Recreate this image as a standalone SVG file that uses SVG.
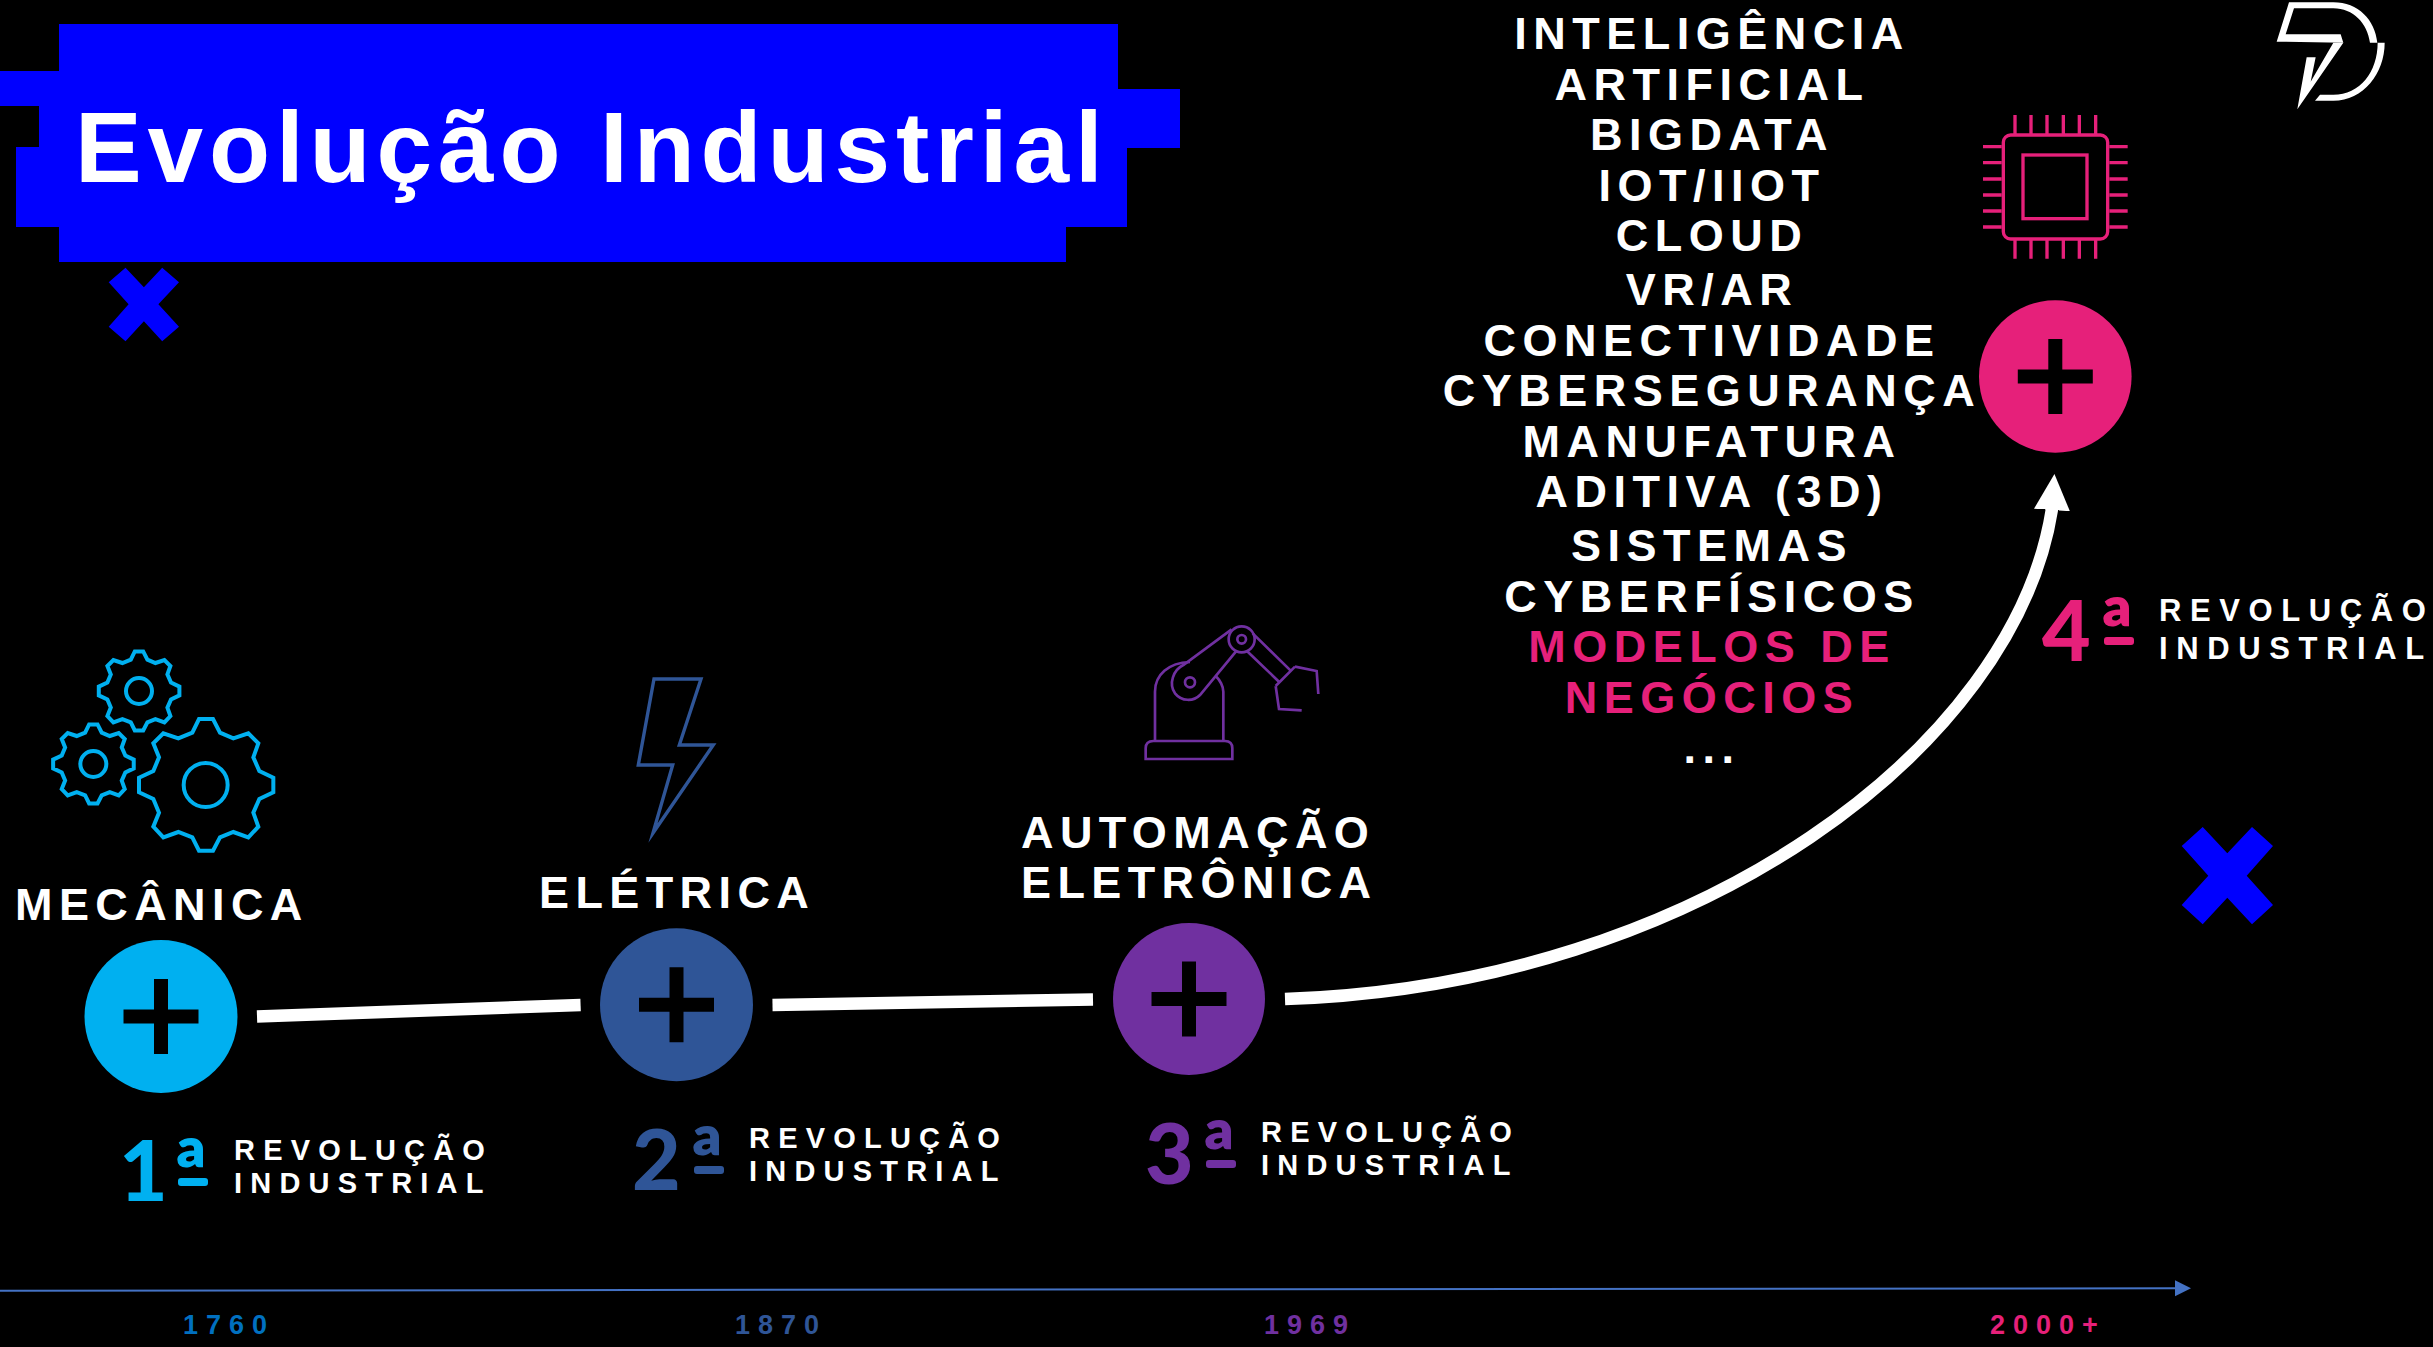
<svg xmlns="http://www.w3.org/2000/svg" xmlns:xlink="http://www.w3.org/1999/xlink" width="2433" height="1347" viewBox="0 0 2433 1347">
<style>
text{font-family:"Liberation Sans",Arial,sans-serif;font-weight:700;fill:#fff}
.h{font-size:45px;letter-spacing:6.4px}
.l{font-size:45px;letter-spacing:6.5px;text-anchor:middle}
.r{font-size:29px;letter-spacing:8.2px}
.r4{font-size:31px;letter-spacing:8.6px}
.y{font-size:27px;letter-spacing:8px}
.n{font-family:Lato,"Liberation Sans",sans-serif;font-weight:900;font-size:84px}
.o{font-size:92px}
.k{fill:#000}
.x{fill:#0000ff}
.ico{fill:none;stroke-linejoin:miter}
.pk{fill:#e6207a}
.wl{fill:none;stroke:#fff;stroke-width:12.5}
</style>
<defs>
<marker id="wa" markerUnits="userSpaceOnUse" markerWidth="40" markerHeight="40" refX="1" refY="18" orient="-86"><path d="M0,0L36,18L0,36Z" fill="#fff"/></marker>
<marker id="ba" markerUnits="userSpaceOnUse" markerWidth="20" markerHeight="20" refX="1" refY="8" orient="auto"><path d="M0,0L16,8L0,16Z" fill="#4472c4"/></marker>
<path id="plus" d="M-7,-37.5H7V-7H37.5V7H7V37.5H-7V7H-37.5V-7H-7Z" class="k"/>
<polygon id="gear" points="-21,-198 21,-198 42,-157 82,-140 127,-155 157,-125 142,-83 160,-42 202,-22 202,22 160,42 142,83 157,125 127,157 82,141 42,157 21,197 -21,197 -41,157 -83,141 -128,157 -158,125 -141,83 -158,42 -201,22 -201,-22 -158,-42 -141,-83 -158,-125 -128,-155 -83,-140 -41,-157"/>
</defs>
<rect width="2433" height="1347" fill="#000"/>
<g id="title">
<polygon class="x" points="59,24 1118,24 1118,89 1180,89 1180,148 1127,148 1127,227 1066,227 1066,262 59,262 59,227 16,227 16,147 39,147 39,106 0,106 0,71 59,71"/>
<text x="75" y="182" style="font-size:100px;letter-spacing:5.85px">Evolução Industrial</text>
</g>
<polygon id="x-small" class="x" points="125.5,267.7 143.9,287.3 162.2,267.7 179,282.3 158.4,304.3 179,326.7 162.2,341.3 143.9,321.3 125.5,341.3 108.7,326.7 128.6,304.3 108.7,282.3"/>
<polygon id="x-large" class="x" points="2202.7,827 2227.3,853.3 2252,827 2273,846 2246.7,875.7 2273,905 2252,924.3 2227.3,897.7 2202.7,924.3 2181.7,905 2208.3,875.7 2181.7,846"/>
<g id="connectors">
<path class="wl" d="M257,1016.5L580.6,1005"/>
<path class="wl" d="M772.5,1005L1093,999.5"/>
<path class="wl" d="M1285,999C1700,985 2015,745 2052,509" marker-end="url(#wa)"/>
<path d="M0,1290.7L2176,1288.3" fill="none" stroke="#4472c4" stroke-width="2" marker-end="url(#ba)"/>
</g>
<g id="node-1">
<g class="ico" stroke="#00b0f0" transform="translate(30,640) scale(.33333)">
<use xlink:href="#gear" href="#gear" transform="translate(528,435)" stroke-width="12"/>
<use xlink:href="#gear" href="#gear" transform="translate(327,153) scale(.6)" stroke-width="20"/>
<use xlink:href="#gear" href="#gear" transform="translate(190,372) scale(.6)" stroke-width="20"/>
<circle cx="527" cy="435" r="66" stroke-width="12"/>
<circle cx="327" cy="153" r="39" stroke-width="12"/>
<circle cx="190" cy="372" r="39" stroke-width="12"/>
</g>
<text class="h" x="15" y="920">MECÂNICA</text>
<circle cx="161" cy="1016.5" r="76.5" fill="#00b0f0"/>
<use xlink:href="#plus" href="#plus" x="161" y="1016.5"/>
<text class="n" x="119" y="1201" style="fill:#00b0f0">1<tspan class="o" x="174" y="1206">ª</tspan></text>
<rect x="178" y="1178" width="30" height="8" rx="3" fill="#00b0f0"/>
<text class="r" x="234" y="1160">REVOLUÇÃO</text>
<text class="r" x="234" y="1193">INDUSTRIAL</text>
<text class="y" x="183" y="1334" style="fill:#0070c0">1760</text>
</g>
<g id="node-2">
<polygon class="ico" stroke="#2f5597" stroke-width="3.4" stroke-miterlimit="20" points="654,679 701,679 679.3,745 713.3,745 653,833 672.7,765 638.3,765"/>
<text class="h" x="539" y="908">ELÉTRICA</text>
<circle cx="676.5" cy="1004.8" r="76.5" fill="#2f5597"/>
<use xlink:href="#plus" href="#plus" x="676.5" y="1004.8"/>
<text class="n" x="632" y="1190" style="fill:#2f5597">2<tspan class="o" x="690" y="1194">ª</tspan></text>
<rect x="694" y="1166" width="30" height="8" rx="3" fill="#2f5597"/>
<text class="r" x="749" y="1148">REVOLUÇÃO</text>
<text class="r" x="749" y="1181">INDUSTRIAL</text>
<text class="y" x="735" y="1334" style="fill:#2f5597">1870</text>
</g>
<g id="node-3">
<g class="ico" stroke="#7030a0" stroke-width="8" transform="translate(1100,600) scale(.33333)">
<path d="M137,477H397V445Q397,423 375,423H160Q137,423 137,445Z"/>
<path d="M165,423V275C165,225 205,188 270,186M370,423V275C370,260 360,240 347,228"/>
<path d="M395,88L250,195C220,210 205,250 225,280C245,305 280,305 300,285L410,152"/>
<circle cx="425" cy="118" r="39"/><circle cx="270" cy="247" r="15"/><circle cx="425" cy="118" r="13"/>
<path d="M458,100L572,212M440,152L540,248M585,200L527,258M585,200L650,213L655,282M527,258L537,327L605,331"/>
</g>
<text class="h" x="1021" y="848">AUTOMAÇÃO</text>
<text class="h" x="1021" y="898">ELETRÔNICA</text>
<circle cx="1189" cy="999" r="76" fill="#7030a0"/>
<use xlink:href="#plus" href="#plus" x="1189" y="999"/>
<text class="n" x="1145" y="1184" style="fill:#7030a0">3<tspan class="o" x="1202" y="1188">ª</tspan></text>
<rect x="1206" y="1160" width="30" height="8" rx="3" fill="#7030a0"/>
<text class="r" x="1261" y="1142">REVOLUÇÃO</text>
<text class="r" x="1261" y="1175">INDUSTRIAL</text>
<text class="y" x="1264" y="1334" style="fill:#7030a0">1969</text>
</g>
<g id="node-4">
<g class="ico" stroke="#e6207a" stroke-width="10" transform="translate(1950,0) scale(.33333)">
<rect x="160" y="405" width="313" height="312" rx="22"/>
<rect x="219" y="465" width="192" height="191"/>
<path d="M195,345V403M243,345V403M291,345V403M340,345V403M388,345V403M437,345V403M195,720V776M243,720V776M291,720V776M340,720V776M388,720V776M437,720V776M99,440H155M99,488H155M99,537H155M99,585H155M99,633H155M99,681H155M478,440H533M478,488H533M478,537H533M478,585H533M478,633H533M478,681H533"/>
</g>
<circle cx="2055.3" cy="376.5" r="76.3" class="pk"/>
<use xlink:href="#plus" href="#plus" x="2055.3" y="376.5"/>
<text class="n" x="2042" y="661" style="fill:#e6207a">4<tspan class="o" x="2100" y="665">ª</tspan></text>
<rect x="2104" y="637" width="30" height="8" rx="3" fill="#e6207a"/>
<text class="r4" x="2159" y="621">REVOLUÇÃO</text>
<text class="r4" x="2159" y="659">INDUSTRIAL</text>
<text class="y" x="1990" y="1334" style="fill:#e6207a">2000+</text>
</g>
<g id="list">
<text class="l" x="1712" y="49">INTELIGÊNCIA</text>
<text class="l" x="1712" y="100">ARTIFICIAL</text>
<text class="l" x="1712" y="150">BIGDATA</text>
<text class="l" x="1712" y="201">IOT/IIOT</text>
<text class="l" x="1712" y="251">CLOUD</text>
<text class="l" x="1712" y="305">VR/AR</text>
<text class="l" x="1712" y="356">CONECTIVIDADE</text>
<text class="l" x="1712" y="406">CYBERSEGURANÇA</text>
<text class="l" x="1712" y="457">MANUFATURA</text>
<text class="l" x="1712" y="507">ADITIVA (3D)</text>
<text class="l" x="1712" y="561">SISTEMAS</text>
<text class="l" x="1712" y="612">CYBERFÍSICOS</text>
<text class="l" x="1712" y="662" style="fill:#e6207a">MODELOS DE</text>
<text class="l" x="1712" y="713" style="fill:#e6207a">NEGÓCIOS</text>
<text class="l" x="1712" y="763">...</text>
</g>
<g id="logo" fill="#fff" transform="translate(1950,0) scale(.33333)">
<path d="M1017,7L1150,7C1225,7 1275,60 1282,128L1260,128C1252,70 1210,25 1150,25L1032,25L1007,103L1172,103L1180,128L980,125Z"/>
<path d="M1180,128L1042,328L1070,172L1097,172L1082,245L1150,128Z"/>
<path d="M1304,128C1304,220 1240,302 1150,302L1095,302L1110,284L1150,284C1230,284 1283,215 1283,128Z"/>
</g>
</svg>
